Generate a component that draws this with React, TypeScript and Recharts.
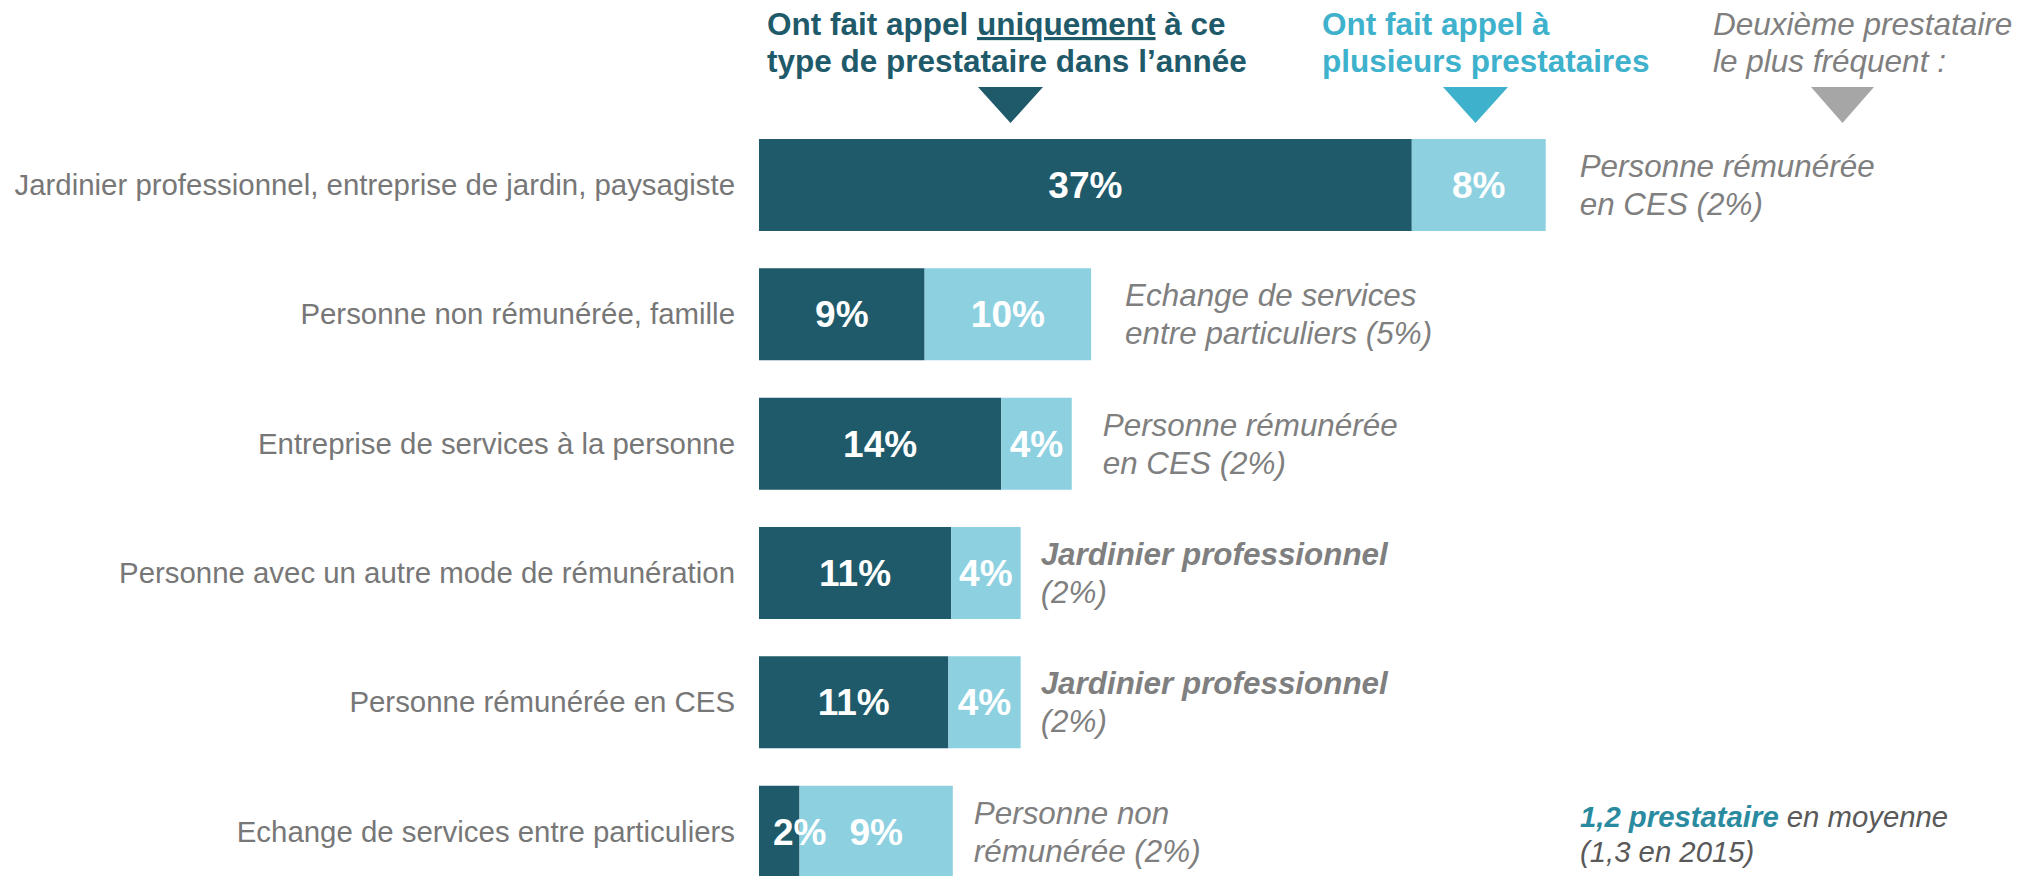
import { BarChart, Bar, XAxis, YAxis, LabelList } from "recharts";

// #region Data
const categories = [
  "Jardinier professionnel, entreprise de jardin, paysagiste",
  "Personne non rémunérée, famille",
  "Entreprise de services à la personne",
  "Personne avec un autre mode de rémunération",
  "Personne rémunérée en CES",
  "Echange de services entre particuliers",
];
const onlyThisType = [37.05, 9.4, 13.75, 10.9, 10.75, 2.3];
const severalTypes = [7.6, 9.45, 4.0, 3.95, 4.1, 8.7];
const onlyLabels = ["37%", "9%", "14%", "11%", "11%", "2%"];
const severalLabels = ["8%", "10%", "4%", "4%", "4%", "9%"];
const secondLine1 = [
  "Personne rémunérée",
  "Echange de services",
  "Personne rémunérée",
  "Jardinier professionnel",
  "Jardinier professionnel",
  "Personne non",
];
const secondLine2 = [
  "en CES (2%)",
  "entre particuliers (5%)",
  "en CES (2%)",
  "(2%)",
  "(2%)",
  "rémunérée (2%)",
];
const secondBold = [false, false, false, true, true, false];
// #endregion

const data = categories.map((name, i) => ({
  name,
  only: onlyThisType[i],
  several: severalTypes[i],
}));

const DARK = "#1F5A6A";
const LIGHT = "#8DD1E1";
const CYAN = "#3EB1CC";
const GREY = "#7F7F7F";
const FONT = "'Liberation Sans', Arial, sans-serif";
const noteGap = [34, 34, 31, 20, 20, 21];

const valueLabel = (labels: string[]) => (props: any) => {
  const { x, y, width, height, value } = props;
  const i = categories.indexOf(value);
  const cy = y + height / 2 + 13;
  const small = width < 60;
  return (
    <text
      x={small ? x + 14 : x + width / 2}
      y={cy}
      textAnchor={small ? "start" : "middle"}
      fill="#fff"
      fontSize={37}
      fontWeight="bold"
      fontFamily={FONT}
    >
      {labels[i]}
    </text>
  );
};

const noteLabel = (props: any) => {
  const { x, y, width, height, value } = props;
  const i = categories.indexOf(value);
  const cy = y + height / 2;
  const tx = x + width + noteGap[i];
  return (
    <text fontFamily={FONT} fontSize={31.4} fontStyle="italic" fill={GREY}>
      <tspan x={tx} y={cy - 8} fontWeight={secondBold[i] ? "bold" : "normal"}>
        {secondLine1[i]}
      </tspan>
      <tspan x={tx} y={cy + 30}>
        {secondLine2[i]}
      </tspan>
    </text>
  );
};

const App = () => {
  return (
    <div
      style={{
        position: "absolute",
        left: 0,
        top: 0,
        width: 2023,
        height: 876,
        overflow: "hidden",
        background: "#fff",
      }}
    >
      <BarChart
        width={2023}
        height={896}
        data={data}
        layout="vertical"
        margin={{ top: 120, right: 0, left: 0, bottom: 0 }}
      >
        <XAxis type="number" hide domain={[0, 71.74]} />
        <YAxis
          type="category"
          dataKey="name"
          width={759}
          axisLine={false}
          tickLine={false}
          tickSize={0}
          tickMargin={24}
          interval={0}
          tick={{ fill: "#777777", fontSize: 29.4, fontFamily: FONT }}
        />
        <Bar dataKey="only" stackId="a" fill={DARK} barSize={92} isAnimationActive={false}>
          <LabelList dataKey="name" content={valueLabel(onlyLabels)} />
        </Bar>
        <Bar dataKey="several" stackId="a" fill={LIGHT} barSize={92} isAnimationActive={false}>
          <LabelList dataKey="name" content={valueLabel(severalLabels)} />
          <LabelList dataKey="name" content={noteLabel} />
        </Bar>
      </BarChart>

      <svg
        width={2023}
        height={130}
        style={{ position: "absolute", left: 0, top: 0 }}
        fontFamily={FONT}
      >
        <text x={767} y={35} fontSize={31.5} fontWeight="bold" fill={DARK}>
          Ont fait appel{" "}
          <tspan textDecoration="underline">uniquement</tspan> à ce
        </text>
        <text x={767} y={72} fontSize={31.5} fontWeight="bold" fill={DARK}>
          type de prestataire dans l’année
        </text>
        <polygon points="978,87 1043,87 1010.5,123" fill={DARK} />

        <text x={1322} y={35} fontSize={31.5} fontWeight="bold" fill={CYAN}>
          Ont fait appel à
        </text>
        <text x={1322} y={72} fontSize={31.5} fontWeight="bold" fill={CYAN}>
          plusieurs prestataires
        </text>
        <polygon points="1443,87 1508,87 1475.5,123" fill={CYAN} />

        <text x={1713} y={35} fontSize={31.5} fontStyle="italic" fill={GREY}>
          Deuxième prestataire
        </text>
        <text x={1713} y={72} fontSize={31.5} fontStyle="italic" fill={GREY}>
          le plus fréquent :
        </text>
        <polygon points="1811,87 1874,87 1842.5,123" fill="#A6A6A6" />
      </svg>

      <svg
        width={500}
        height={90}
        style={{ position: "absolute", left: 1560, top: 790 }}
        fontFamily={FONT}
      >
        <text x={20} y={37} fontSize={29.3} fontStyle="italic" fill="#595959">
          <tspan fontWeight="bold" fill="#2A8BA0">
            1,2 prestataire
          </tspan>{" "}
          en moyenne
        </text>
        <text x={20} y={72} fontSize={29.3} fontStyle="italic" fill="#595959">
          (1,3 en 2015)
        </text>
      </svg>
    </div>
  );
};

export default App;
